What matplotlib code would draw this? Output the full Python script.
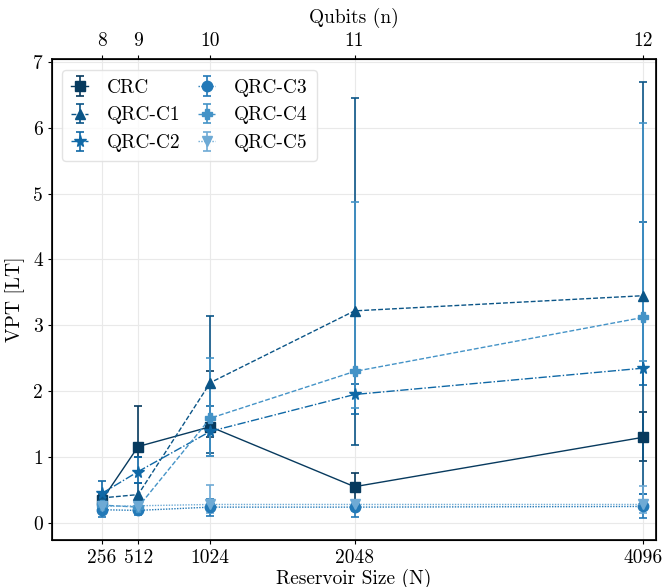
import matplotlib
matplotlib.use("Agg")
import matplotlib.pyplot as plt
import numpy as np

plt.rcParams['font.family'] = ['cmr10', 'DejaVu Serif']
plt.rcParams['axes.formatter.use_mathtext'] = True
plt.rcParams['mathtext.fontset'] = 'cm'

N = [256, 512, 1024, 2048, 4096]
qubits = [8, 9, 10, 11, 12]
labels = ["CRC", "QRC-C1", "QRC-C2", "QRC-C3", "QRC-C4", "QRC-C5"]

crc_mean = [0.35, 1.16, 1.46, 0.55, 1.30]
crc_low = [0.28, 1.00, 1.30, 0.35, 0.94]
crc_high = [0.42, 1.77, 2.31, 0.76, 1.68]

c1_mean = [0.38, 0.43, 2.13, 3.22, 3.45]
c1_low = [0.30, 0.30, 1.06, 1.19, 0.44]
c1_high = [0.45, 0.60, 3.14, 6.45, 6.70]

c2_mean = [0.45, 0.78, 1.39, 1.95, 2.35]
c2_low = [0.30, 0.60, 1.02, 1.65, 2.10]
c2_high = [0.63, 1.00, 1.78, 2.11, 4.57]

c3_mean = [0.20, 0.19, 0.24, 0.24, 0.25]
c3_low = [0.09, 0.12, 0.10, 0.09, 0.08]
c3_high = [0.30, 0.26, 0.36, 0.35, 0.44]

c4_mean = [0.27, 0.24, 1.59, 2.30, 3.12]
c4_low = [0.20, 0.18, 1.01, 1.75, 2.46]
c4_high = [0.35, 0.30, 2.51, 4.87, 6.08]

c5_mean = [0.25, 0.26, 0.28, 0.28, 0.28]
c5_low = [0.18, 0.20, 0.15, 0.18, 0.15]
c5_high = [0.32, 0.32, 0.58, 0.35, 0.56]

series = [
    (crc_mean, crc_low, crc_high),
    (c1_mean, c1_low, c1_high),
    (c2_mean, c2_low, c2_high),
    (c3_mean, c3_low, c3_high),
    (c4_mean, c4_low, c4_high),
    (c5_mean, c5_low, c5_high),
]
colors = ['#073a5e', '#0b5587', '#0f68a6', '#2379b7', '#4493c7', '#6eaad5']
markers = ['s', '^', '*', 'o', 'P', 'v']
styles = ['-', (0, (3.5, 1.5)), (0, (6, 1.5, 1, 1.5)), (0, (1, 1)), (0, (3.5, 1.5)), (0, (1, 1))]
msizes = [7.5, 7.5, 8.5, 7.5, 7.5, 7.5]

fig = plt.figure(figsize=(6.64, 5.87), dpi=100)
ax = fig.add_axes([0.078, 0.080, 0.910, 0.819])

for (m, lo, hi), c, mk, ls, ms, lab in zip(series, colors, markers, styles, msizes, labels):
    m = np.array(m); lo = np.array(lo); hi = np.array(hi)
    yerr = np.vstack([m - lo, hi - m])
    ax.errorbar(N, m, yerr=yerr, color=c, marker=mk, linestyle=ls, linewidth=1.0,
                markersize=ms, capsize=3, elinewidth=1.2, capthick=1.2, label=lab)

ax.set_xlim(-101, 4188)
ax.set_ylim(-0.26, 7.04)
ax.set_xticks(N)
ax.set_xticklabels([str(n) for n in N])
ax.set_yticks(range(0, 8))
ax.set_yticklabels([str(i) for i in range(0, 8)])
ax.tick_params(labelsize=14, length=3)
ax.grid(True, color='#e9e9e9', linewidth=0.8)
ax.set_axisbelow(True)
ax.set_xlabel("Reservoir Size (N)", fontsize=14, labelpad=1)
ax.set_ylabel("VPT [LT]", fontsize=14, labelpad=6)
for s in ax.spines.values():
    s.set_linewidth(1.3)
    s.set_color('#111111')

ax2 = ax.twiny()
ax2.set_xlim(ax.get_xlim())
ax2.set_xticks(N)
ax2.set_xticklabels([str(q) for q in qubits])
ax2.tick_params(labelsize=14, length=3)
ax2.set_xlabel("Qubits (n)", fontsize=14, labelpad=7)

leg = ax.legend(ncol=2, loc='upper left', fontsize=14, frameon=True, fancybox=True,
                framealpha=0.8, edgecolor='#dddddd', handlelength=0.85,
                columnspacing=0.9, handletextpad=1.0, borderpad=0.45, labelspacing=0.5,
                borderaxespad=0.55)

fig.savefig("out.png", dpi=100)
